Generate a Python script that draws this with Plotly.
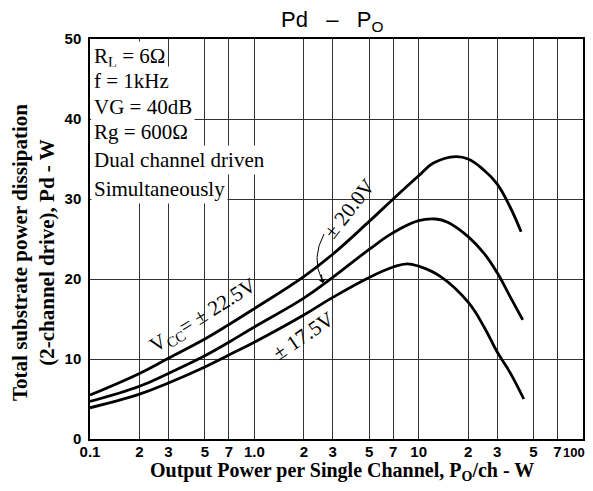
import plotly.graph_objects as go

# ---- data ----
p_out_22_5 = [0.1, 0.2, 0.3, 0.5, 0.7, 1.0, 2, 3, 5, 7, 10, 12.3, 16.8, 20, 25, 30, 36, 42]
pd_22_5 = [5.5, 8.2, 10.1, 12.5, 14.3, 16.3, 20.3, 23.1, 27.2, 30.0, 32.9, 34.5, 35.3, 35.0, 33.6, 31.9, 29.0, 25.9]

p_out_20 = [0.1, 0.2, 0.3, 0.5, 0.7, 1.0, 2, 3, 5, 7, 10, 12.7, 15, 20, 25, 30, 36, 43]
pd_20 = [4.7, 6.6, 8.2, 10.4, 12.1, 14.0, 17.6, 20.2, 23.7, 25.8, 27.3, 27.5, 27.1, 25.3, 23.2, 20.8, 17.8, 14.9]

p_out_17_5 = [0.1, 0.2, 0.3, 0.5, 0.7, 1.0, 2, 3, 5, 7, 8.5, 10, 13.6, 20, 25, 30, 36, 43.6]
pd_17_5 = [3.9, 5.6, 7.0, 9.0, 10.5, 12.1, 15.5, 17.7, 20.2, 21.5, 21.9, 21.6, 20.3, 17.1, 14.0, 10.9, 8.3, 5.0]

x_tick_vals = [0.1, 0.2, 0.3, 0.5, 0.7, 1, 2, 3, 5, 7, 10, 20, 30, 50, 70, 100]
x_tick_text = ["0.1", "2", "3", "5", "7", "1.0", "2", "3", "5", "7", "10", "2", "3", "5", "7", ""]
x_last_label = "100"
y_tick_vals = [0, 10, 20, 30, 40, 50]

conditions = ["R<sub>L</sub> = 6Ω", "f = 1kHz", "VG = 40dB", "Rg = 600Ω",
              "Dual channel driven", "Simultaneously"]

SERIF = "Liberation Serif"
SANS = "Liberation Sans"
NB = "\u00a0"

fig = go.Figure()
for xs, ys, name in [(p_out_22_5, pd_22_5, "±22.5V"), (p_out_20, pd_20, "±20.0V"),
                     (p_out_17_5, pd_17_5, "±17.5V")]:
    fig.add_trace(go.Scatter(x=xs, y=ys, mode="lines", name=name,
                             line=dict(color="black", width=2.8, shape="spline", smoothing=1.2),
                             showlegend=False, hoverinfo="skip"))

# page has an 8px body margin: figure sits at (8, 8) in the window; keep the page
# from overflowing the 593x491 window
OFF = 8
W, H = 593 - 2 * OFF, 491 - 2 * OFF
PL, PR, PT, PB = 90, 583, 39, 439          # plot area in window pixels
L, R, T, B = PL - OFF, (W + OFF) - PR, PT - OFF, (H + OFF) - PB
pw, ph = PR - PL, PB - PT


def px(xp):
    return (xp - PL) / pw


def py(yp):
    return (PB - yp) / ph


annotations = []
cond_y = [57, 81, 107, 132, 160, 189]
for txt, yy in zip(conditions, cond_y):
    annotations.append(dict(text=txt, xref="paper", yref="paper", x=px(91), y=py(yy),
                            xanchor="left", yanchor="middle", showarrow=False,
                            bgcolor="white", borderpad=2,
                            font=dict(family=SERIF, size=21, color="black")))

# curve labels
annotations.append(dict(text="V<sub>CC</sub>= ± 22.5V", xref="paper", yref="paper",
                        x=px(203), y=py(316), xanchor="center", yanchor="middle",
                        textangle=-32, showarrow=False,
                        font=dict(family=SERIF, size=21, color="black")))
annotations.append(dict(text="± 20.0V", xref="paper", yref="paper",
                        x=px(349), y=py(209), xanchor="center", yanchor="middle",
                        textangle=-52, showarrow=False,
                        font=dict(family=SERIF, size=21, color="black")))
annotations.append(dict(text="± 17.5V", xref="paper", yref="paper",
                        x=px(303), y=py(336), xanchor="center", yanchor="middle",
                        textangle=-34, showarrow=False,
                        font=dict(family=SERIF, size=21, color="black")))
# arrow head for the ±20.0V pointer
annotations.append(dict(text="", xref="paper", yref="paper", x=px(323), y=py(283),
                        ax=-2, ay=-10, showarrow=True, arrowhead=1, arrowsize=1.2,
                        arrowwidth=1, arrowcolor="black"))

# last x tick label (kept inside the page)
annotations.append(dict(text=x_last_label, xref="x", yref="paper", x=2, y=py(452),
                        xanchor="center", yanchor="middle", xshift=-9, showarrow=False,
                        font=dict(family=SANS, size=13, color="black", weight="bold")))

# title
sp = NB * 3
annotations.append(dict(text=f"Pd{sp}–{sp}P<sub>O</sub>", xref="paper", yref="paper",
                        x=px(332), y=py(21), xanchor="center", yanchor="middle", showarrow=False,
                        font=dict(family=SANS, size=22, color="black")))
# y title
annotations.append(dict(text="<b>Total substrate power dissipation</b><br><b>(2-channel drive), Pd - W</b>",
                        xref="paper", yref="paper", x=px(34), y=py(253), textangle=-90,
                        xanchor="center", yanchor="middle",
                        showarrow=False, font=dict(family=SERIF, size=21, color="black")))
# x title
annotations.append(dict(text="<b>Output Power per Single Channel, P<sub>O</sub>/ch - W</b>",
                        xref="paper", yref="paper", x=px(342), y=py(471),
                        xanchor="center", yanchor="middle",
                        showarrow=False, font=dict(family=SERIF, size=20, color="black")))

shapes = [dict(type="path", xref="paper", yref="paper",
               path=f"M {px(324)} {py(234)} Q {px(311)} {py(258)} {px(322)} {py(280)}",
               line=dict(color="black", width=1))]

fig.update_layout(
    width=W, height=H,
    margin=dict(l=L, r=R, t=T, b=B, autoexpand=False),
    paper_bgcolor="white", plot_bgcolor="white",
    annotations=annotations, shapes=shapes,
    showlegend=False,
)
fig.update_xaxes(type="log", range=[-1, 2], tickvals=x_tick_vals, ticktext=x_tick_text,
                 showgrid=True, gridcolor="#333", gridwidth=1,
                 showline=True, linecolor="black", linewidth=1.5, mirror=True,
                 ticks="", ticklabelstandoff=-2, ticklabeloverflow="allow",
                 automargin=False,
                 tickfont=dict(family=SANS, size=15, color="black", weight="bold"),
                 zeroline=False)
fig.update_yaxes(range=[0, 50], tickvals=y_tick_vals,
                 showgrid=True, gridcolor="#333", gridwidth=1,
                 showline=True, linecolor="black", linewidth=1.5, mirror=True,
                 ticks="", ticklabelstandoff=4, automargin=False,
                 tickfont=dict(family=SANS, size=15, color="black", weight="bold"),
                 zeroline=False)

fig.write_html("out.html")
